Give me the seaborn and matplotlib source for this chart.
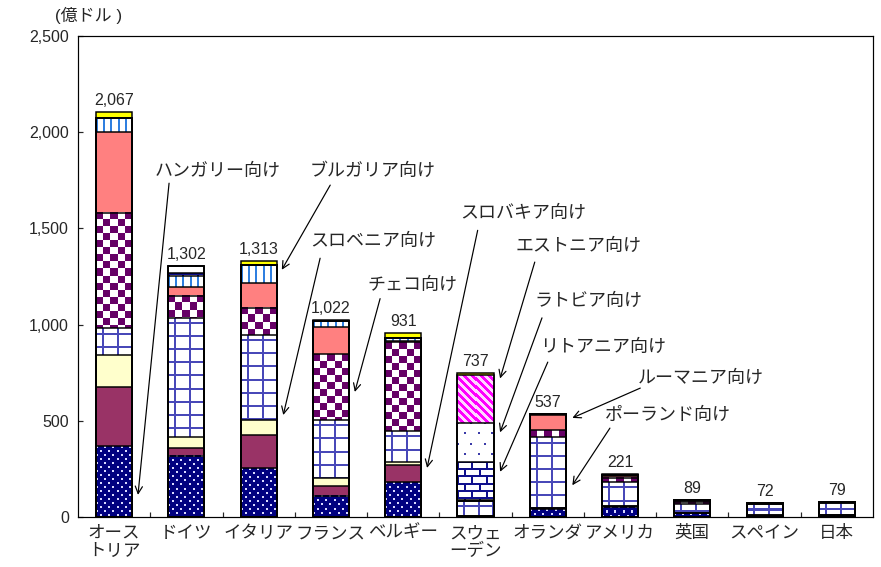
import numpy as np
import matplotlib
matplotlib.use('Agg')
import matplotlib.pyplot as plt
import seaborn as sns

# 投資元の国（横軸）
countries = ['オーストリア', 'ドイツ', 'イタリア', 'フランス', 'ベルギー', 'スウェーデン',
             'オランダ', 'アメリカ', '英国', 'スペイン', '日本']
tick_labels = ['オース\nトリア', 'ドイツ', 'イタリア', 'フランス', 'ベルギー', 'スウェ\nーデン',
               'オランダ', 'アメリカ', '英国', 'スペイン', '日本']
totals = [2067, 1302, 1313, 1022, 931, 737, 537, 221, 89, 72, 79]

# 投資先別の残高（億ドル、下から積み上げ）
hungary = [369, 319, 253, 111, 180, 5, 40, 52, 20, 5, 8]
slovakia = [307, 38, 173, 52, 90, 0, 8, 4, 3, 3, 2]
slovenia = [166, 57, 78, 38, 16, 0, 0, 0, 0, 0, 0]
poland = [140, 619, 442, 303, 163, 78, 368, 126, 42, 58, 62]
czech = [598, 116, 142, 342, 461, 0, 36, 21, 15, 2, 3]
romania = [421, 49, 127, 144, 5, 0, 78, 10, 3, 2, 2]
bulgaria = [72, 55, 95, 30, 16, 5, 4, 6, 6, 2, 2]
lithuania = [0, 14, 0, 0, 0, 198, 0, 0, 0, 0, 0]
latvia = [0, 40, 0, 0, 0, 203, 0, 0, 0, 0, 0]
estonia = [0, 0, 0, 0, 0, 249, 0, 0, 0, 0, 0]
others = [34, 0, 21, 4, 24, 10, 3, 4, 0, 0, 0]

series = [hungary, slovakia, slovenia, poland, czech, romania,
          bulgaria, lithuania, latvia, estonia, others]
faces = ['#000080', '#993366', '#FFFFCC', '#FFFFFF', '#FFFFFF', '#FF8080',
         '#FFFFFF', '#FFFFFF', '#FFFFFF', '#FFCCFF', '#FFFF00']
patterns = ['navydots', None, None, 'grid', 'checker', None,
            'stripes', 'bricks', 'dots', 'diag', None]

# 矢印付きの注記: (テキスト, テキスト位置, 矢印の始点, 矢印の先)
notes = [
    ('ハンガリー向け', (0.56, 1795), (0.76, 1735), (0.33, 115)),
    ('ブルガリア向け', (2.71, 1795), (2.99, 1725), (2.32, 1285)),
    ('スロベニア向け', (2.71, 1430), (2.85, 1345), (2.34, 530)),
    ('チェコ向け', (3.50, 1205), (3.68, 1135), (3.33, 650)),
    ('スロバキア向け', (4.79, 1580), (5.03, 1490), (4.33, 255)),
    ('エストニア向け', (5.55, 1405), (5.82, 1325), (5.34, 720)),
    ('ラトビア向け', (5.82, 1120), (5.92, 1035), (5.34, 440)),
    ('リトアニア向け', (5.89, 880), (6.00, 805), (5.34, 235)),
    ('ルーマニア向け', (7.25, 718), (7.28, 670), (6.34, 515)),
    ('ポーランド向け', (6.79, 530), (6.86, 462), (6.34, 165)),
]

sns.set_theme(style='white')
plt.rcParams['font.family'] = ['Liberation Sans', 'Noto Sans CJK JP']


def pattern_image(kind, h, w):
    """ピクセル単位の塗りパターンを作る"""
    yy, xx = np.mgrid[0:h, 0:w]
    img = np.ones((h, w, 3))

    def paint(mask, color):
        img[mask] = matplotlib.colors.to_rgb(color)

    if kind == 'navydots':
        paint(np.ones((h, w), bool), '#000080')
        m = ((yy % 8 < 2) & (xx % 8 < 2)) | (((yy + 4) % 8 < 2) & ((xx + 4) % 8 < 2))
        paint(m, '#D8D8FF')
    elif kind == 'grid':
        paint((xx % 14 == 6) | (xx % 14 == 7) | (yy % 13 == 5) | (yy % 13 == 6), '#4848B8')
    elif kind == 'checker':
        paint(((xx // 7) + (yy // 7)) % 2 == 0, '#660066')
    elif kind == 'stripes':
        paint(xx % 7 < 2, '#2F7FE0')
    elif kind == 'bricks':
        shift = 7 * ((yy // 7) % 2)
        paint((yy % 7 < 2) | ((xx + shift) % 14 < 2), '#10108C')
    elif kind == 'dots':
        m = ((yy % 20 < 2) & (xx % 13 < 2)) | (((yy + 10) % 20 < 2) & ((xx + 6) % 13 < 2))
        paint(m, '#3A3AA8')
    elif kind == 'diag':
        paint(np.ones((h, w), bool), '#FFD8FF')
        paint((yy - xx) % 8 < 4, '#FF00FF')
    return img


fig = plt.figure(figsize=(881 / 72, 567 / 72), dpi=72)
ax = fig.add_axes([78 / 881, 50 / 567, 795 / 881, 481 / 567])

bar_w = 0.5
ymax = 2500
stack = np.cumsum(np.array(series, dtype=float), axis=0)
bottoms = stack - np.array(series, dtype=float)

# 積み上げ棒: 上の層から順に累積値で塗る
for k in reversed(range(len(series))):
    sns.barplot(x=countries, y=stack[k], order=countries, color=faces[k],
                saturation=1, width=bar_w, errorbar=None, linewidth=0,
                ax=ax, zorder=1)

# 模様
px_x = 795 / len(countries)
px_y = 481 / ymax
for k, kind in enumerate(patterns):
    if kind is None:
        continue
    for i in range(len(countries)):
        lo, hi = bottoms[k][i], stack[k][i]
        h = int(round((hi - lo) * px_y))
        if h < 1:
            continue
        w = int(round(bar_w * px_x))
        ax.imshow(pattern_image(kind, h, w), extent=(i - bar_w / 2, i + bar_w / 2, lo, hi),
                  aspect='auto', interpolation='nearest', zorder=2)

# 区切り線
for k in range(len(series)):
    sns.barplot(x=countries, y=stack[k], order=countries, color='black', fill=False,
                width=bar_w, errorbar=None, linewidth=1.5, ax=ax, zorder=3)

# 合計値ラベル
for i, t in enumerate(totals):
    ax.annotate(f'{t:,}', (i, stack[-1][i]), xytext=(0, 4), textcoords='offset points',
                ha='center', va='bottom', fontsize=16)

for label, txt, tail, head in notes:
    ax.text(txt[0], txt[1], label, fontsize=18, ha='left', va='center')
    ax.annotate('', xy=head, xytext=tail,
                arrowprops=dict(arrowstyle='->', color='black', lw=1.2,
                                mutation_scale=18, shrinkA=0, shrinkB=0),
                zorder=4)

ax.set_xlim(-0.5, len(countries) - 0.5)
ax.set_ylim(0, ymax)
ax.set_xlabel('')
ax.set_ylabel('')
ax.set_yticks(range(0, ymax + 1, 500))
ax.set_yticklabels([f'{v:,}' for v in range(0, ymax + 1, 500)])
ax.set_xticks(range(len(countries)))
ax.set_xticklabels(tick_labels, fontsize=17.5, linespacing=1.05)
ax.set_xticks(np.arange(0.5, len(countries) - 1, 1), minor=True)
ax.tick_params(axis='y', direction='in', length=5, width=1.2, labelsize=16, pad=9, left=True)
ax.tick_params(axis='x', which='major', length=0, pad=8)
ax.tick_params(axis='x', which='minor', direction='in', length=5, width=1.2, bottom=True)
for s in ax.spines.values():
    s.set_color('black')
    s.set_linewidth(1.2)

fig.text(55 / 881, 1 - 15 / 567, '(億ドル )', ha='left', va='center', fontsize=17)

fig.savefig('out.png', dpi=72, facecolor='white')
